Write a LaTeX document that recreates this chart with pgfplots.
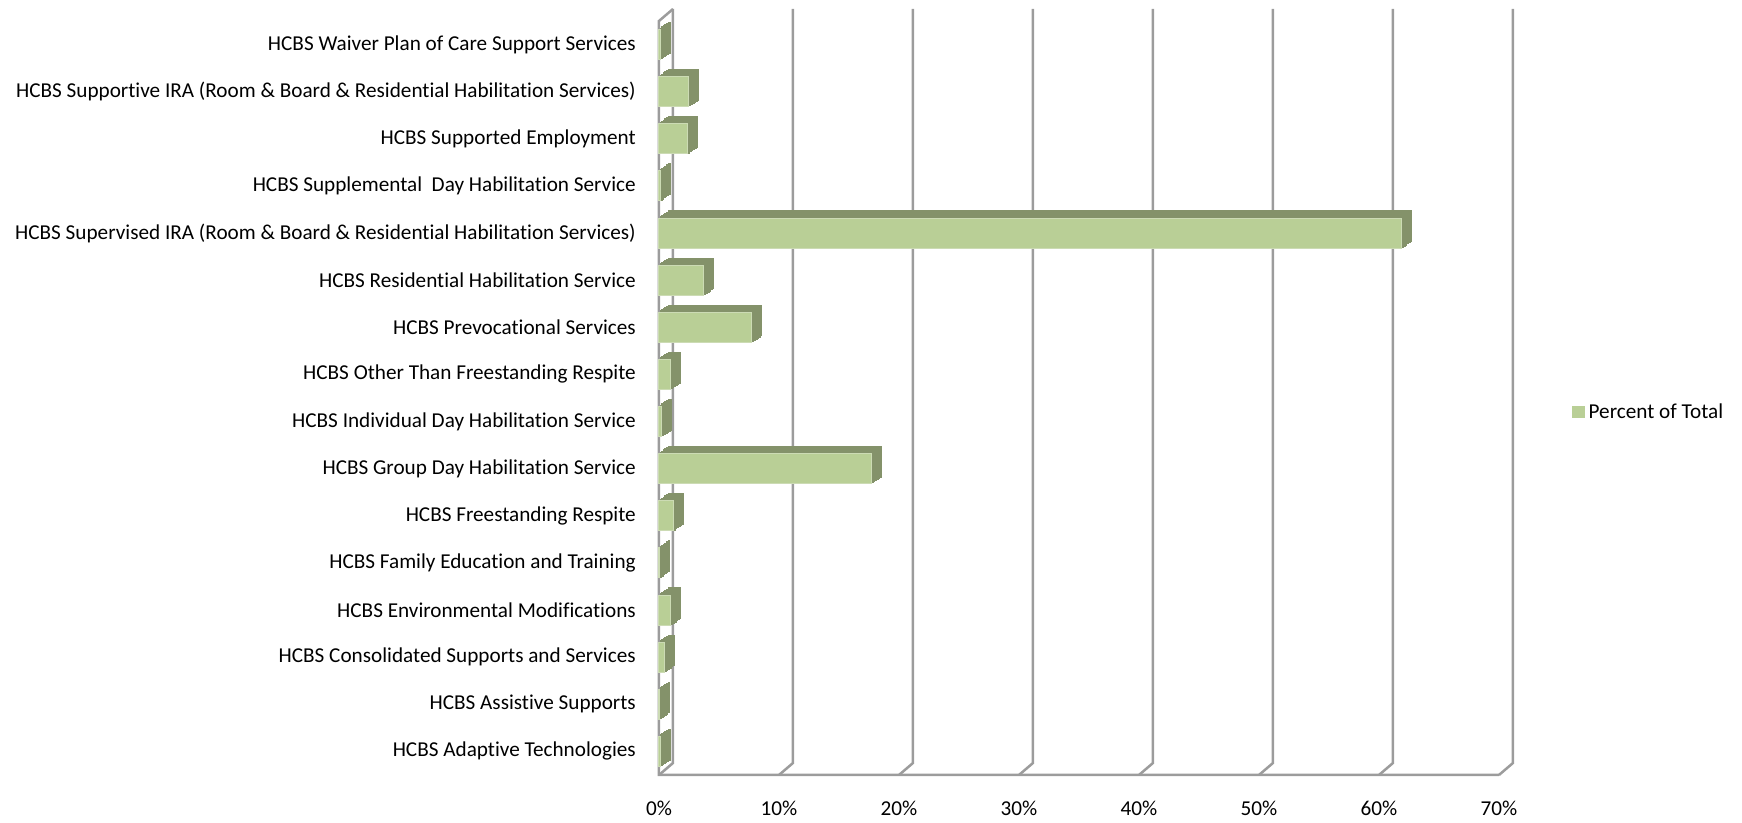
\documentclass[border=0pt]{standalone}
\usepackage{fontspec}
\setmainfont[RawFeature={-liga;-clig;-dlig;-calt;-rlig;-hlig}]{Carlito}
\usepackage{pgfplots}
\usepackage{pgfplotstable}
\pgfplotsset{compat=1.18}

\definecolor{face}{HTML}{B9CF96}
\definecolor{faceedge}{HTML}{CCDBB4}
\definecolor{depth}{HTML}{84926A}
\definecolor{wall}{HTML}{9C9C9C}

% position (bottom = 1) and percent of total
\pgfplotstableread{
pos val
1 0.1
2 0.05
3 0.45
4 1.0
5 0.05
6 1.2
7 17.7
8 0.25
9 0.95
10 7.75
11 3.75
12 61.9
13 0.1
14 2.4
15 2.5
16 0.1
}\data

\begin{document}
\begin{tikzpicture}
\begin{axis}[
  set layers,
  at={(0,0)}, anchor=south west,
  scale only axis,
  width=420pt, height=377pt,
  xmin=0, xmax=70, ymin=0.5, ymax=16.5,
  clip=false,
  axis line style={draw=none},
  tick style={draw=none},
  xtick={0,10,...,70},
  xticklabel={\pgfmathprintnumber{\tick}\%},
  ytick={1,...,16},
  yticklabels={
    HCBS Adaptive Technologies,
    HCBS Assistive Supports,
    HCBS Consolidated Supports and Services,
    HCBS Environmental Modifications,
    HCBS Family Education and Training,
    HCBS Freestanding Respite,
    HCBS Group Day Habilitation Service,
    HCBS Individual Day Habilitation Service,
    HCBS Other Than Freestanding Respite,
    HCBS Prevocational Services,
    HCBS Residential Habilitation Service\ ,
    HCBS Supervised IRA (Room \& Board \& Residential Habilitation Services),
    HCBS Supplemental\ \ Day Habilitation Service,
    HCBS Supported Employment,
    HCBS Supportive IRA (Room \& Board \& Residential Habilitation Services),
    HCBS Waiver Plan of Care Support Services},
  /pgf/number format/assume math mode=true,
  every tick label/.append style={font=\fontsize{10.6}{12.7}\selectfont},
  xticklabel style={yshift=-9.5pt},
  yticklabel style={xshift=-3.8pt},
  xbar, bar width=15pt,
  legend style={at={(axis description cs:1.087,0.481)}, anchor=west,
    draw=none, fill=none, inner sep=0pt,
    font=\fontsize{10.6}{12.7}\selectfont},
  legend image code/.code={\fill[face] (0pt,-2.8pt) rectangle (5.6pt,2.8pt);},
]
\begin{pgfonlayer}{axis background}
  % back wall grid lines with the floor edge
  \pgfplotsinvokeforeach{0,10,...,70}{
    \draw[wall, line width=1.25pt]
      ([shift={(7pt,6pt)}]axis cs:#1,16.5) -- ([shift={(7pt,6pt)}]axis cs:#1,0.5)
      -- (axis cs:#1,0.5);
  }
  \draw[wall, line width=1.25pt] (axis cs:70,0.5) -- (axis cs:0,0.5)
    -- (axis cs:0,16.5) -- ([shift={(7pt,6pt)}]axis cs:0,16.5);
\end{pgfonlayer}
% depth of the bars
\pgfplotsinvokeforeach{1,...,6}{
  \addplot[xbar, fill=depth, draw=depth, line width=0.9pt,
    xshift={0.8*#1pt}, yshift={0.56*#1pt}, forget plot]
    table[x=val, y=pos] {\data};
}
\addplot[xbar, fill=face, draw=faceedge, line width=0.5pt]
  table[x=val, y=pos] {\data};
\legend{Percent of Total}
\end{axis}
\path (-329.5pt,-23pt) rectangle (541.5pt,387.5pt);
\end{tikzpicture}
\end{document}
